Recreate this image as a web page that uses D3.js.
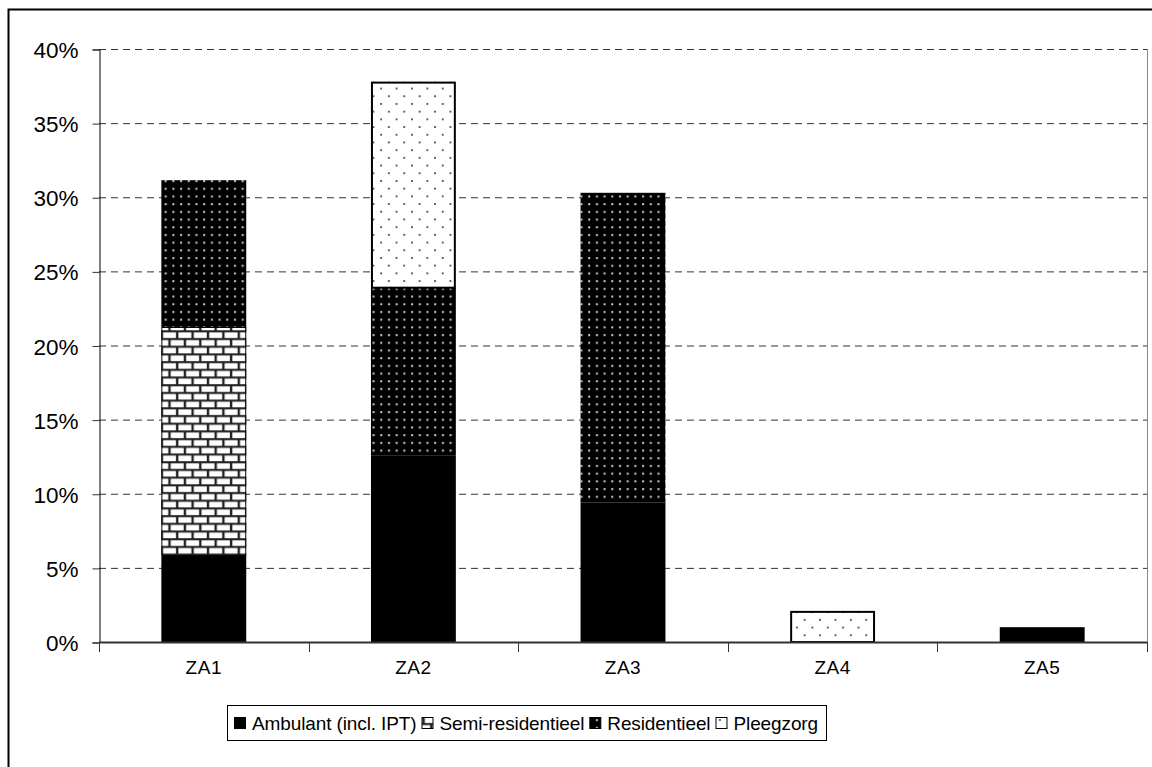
<!DOCTYPE html>
<html><head><meta charset="utf-8">
<script src="https://cdn.jsdelivr.net/npm/d3@7"></script>
<style>body{margin:0;background:#fff}svg{display:block;font-family:"Liberation Sans",Arial,sans-serif}</style>
</head><body><svg id="c" width="1152" height="767"></svg>
<script>
const categories = ["ZA1","ZA2","ZA3","ZA4","ZA5"];
const seriesNames = ["Ambulant (incl. IPT)","Semi-residentieel","Residentieel","Pleegzorg"];
const ambulant = [5.8, 12.6, 9.4, 0, 1.0];
const semiResidentieel = [15.45, 0, 0, 0, 0];
const residentieel = [9.9, 11.3, 20.9, 0, 0];
const pleegzorg = [0, 13.9, 0, 2.1, 0];
const yTicks = [0,5,10,15,20,25,30,35,40];

const svg = d3.select("#c");
const defs = svg.append("defs");
// patterns
const pSemi = defs.append("pattern").attr("id","semi").attr("patternUnits","userSpaceOnUse").attr("width",15.4).attr("height",15.4);
pSemi.append("rect").attr("width",15.4).attr("height",15.4).attr("fill","#222");
pSemi.append("rect").attr("x",1.3).attr("y",1.3).attr("width",13).attr("height",5.6).attr("fill","#fff");
pSemi.append("rect").attr("x",-6.4).attr("y",9).attr("width",13).attr("height",5.6).attr("fill","#fff");
pSemi.append("rect").attr("x",9).attr("y",9).attr("width",13).attr("height",5.6).attr("fill","#fff");
const pRes = defs.append("pattern").attr("id","res").attr("patternUnits","userSpaceOnUse").attr("width",7.7).attr("height",7.7);
pRes.append("rect").attr("width",7.7).attr("height",7.7).attr("fill","#000");
pRes.append("rect").attr("x",3).attr("y",3).attr("width",2).attr("height",2).attr("fill","#ccc");
const pPl = defs.append("pattern").attr("id","pl").attr("patternUnits","userSpaceOnUse").attr("width",15.4).attr("height",15.4);
pPl.append("rect").attr("width",15.4).attr("height",15.4).attr("fill","#fff");
pPl.append("rect").attr("x",3).attr("y",3).attr("width",1.7).attr("height",1.7).attr("fill","#333");
pPl.append("rect").attr("x",10.7).attr("y",10.7).attr("width",1.7).attr("height",1.7).attr("fill","#333");

const fills = ["#000","url(#semi)","url(#res)","url(#pl)"];

// outer frame
svg.append("rect").attr("x",8.5).attr("y",9.5).attr("width",1200).attr("height",800).attr("fill","none").attr("stroke","#000").attr("stroke-width",2);

const L=99, R=1147, T=49, B=642;
const x = d3.scaleBand().domain(categories).range([L,R]).paddingInner(0.595).paddingOuter(0.2975);
const y = d3.scaleLinear().domain([0,40]).range([B,T]);

// grid
svg.append("g").selectAll("line").data(yTicks.filter(d=>d>0)).join("line")
  .attr("x1",L).attr("x2",R).attr("y1",d=>y(d)+0.5).attr("y2",d=>y(d)+0.5)
  .attr("stroke","#333").attr("stroke-width",1).attr("stroke-dasharray","7,5");
svg.append("line").attr("x1",R+0.5).attr("x2",R+0.5).attr("y1",T).attr("y2",B).attr("stroke","#888").attr("stroke-width",1);

const data = categories.map((c,i)=>({cat:c, Ambulant:ambulant[i], Semi:semiResidentieel[i], Res:residentieel[i], Pl:pleegzorg[i]}));
const keys = ["Ambulant","Semi","Res","Pl"];
const stack = d3.stack().keys(keys)(data);
svg.append("g").selectAll("g").data(stack).join("g")
  .attr("fill",(d,i)=>fills[i])
  .selectAll("rect").data(d=>d.filter(s=>s[1]-s[0]>0)).join("rect")
  .attr("x",d=>x(d.data.cat)).attr("width",x.bandwidth())
  .attr("y",d=>y(d[1])).attr("height",d=>y(d[0])-y(d[1]));
svg.append("g").selectAll("rect").data(stack[3].filter(s=>s[1]-s[0]>0)).join("rect")
  .attr("x",d=>x(d.data.cat)+1).attr("width",x.bandwidth()-2)
  .attr("y",d=>y(d[1])+1).attr("height",d=>y(d[0])-y(d[1])-1)
  .attr("fill","none").attr("stroke","#000").attr("stroke-width",2);
svg.append("g").selectAll("rect").data(stack[1].filter(s=>s[1]-s[0]>0)).join("rect")
  .attr("x",d=>x(d.data.cat)+0.5).attr("width",x.bandwidth()-1)
  .attr("y",d=>y(d[1])+0.5).attr("height",d=>y(d[0])-y(d[1])-1)
  .attr("fill","none").attr("stroke","#000").attr("stroke-width",1);

// y axis
const ya = d3.axisLeft(y).tickValues(yTicks).tickFormat(d=>d+"%").tickSize(7).tickPadding(14);
const gy = svg.append("g").attr("transform",`translate(${L+0.5},0.5)`).call(ya);
gy.select(".domain").attr("stroke","#000");
gy.selectAll(".tick line").attr("stroke","#333");
gy.selectAll("text").style("font-size","22.5px").attr("fill","#000").style("font-family","Liberation Sans, Arial, sans-serif").attr("dy","0.36em");

// x axis
svg.append("line").attr("x1",L).attr("x2",R).attr("y1",B+0.5).attr("y2",B+0.5).attr("stroke","#333").attr("stroke-width",2);
const bounds = d3.range(categories.length+1).map(i=>L + i*x.step());
svg.append("g").selectAll("line").data(bounds).join("line")
  .attr("x1",d=>Math.round(d)+0.5).attr("x2",d=>Math.round(d)+0.5).attr("y1",B).attr("y2",B+10)
  .attr("stroke","#333").attr("stroke-width",1);
svg.append("g").selectAll("text").data(categories).join("text")
  .attr("x",d=>x(d)+x.bandwidth()/2).attr("y",674).attr("text-anchor","middle")
  .style("font-size","19px").style("letter-spacing","0.5px").text(d=>d);

// legend
const lg = svg.append("g");
lg.append("rect").attr("x",227.5).attr("y",705.5).attr("width",599).attr("height",35).attr("fill","#fff").attr("stroke","#000").attr("stroke-width",1);
let cx = 234;
const targetEnd = 818, iconW = 12, gapIn = 6, gapOut = 5;
const texts = seriesNames.map(n => lg.append("text").attr("y",730).style("font-size","19px").text(n));
const widths = texts.map(t=>t.node().getComputedTextLength());
const nChars = d3.sum(seriesNames, n=>n.length);
const natural = d3.sum(widths) + seriesNames.length*(iconW+gapIn) + (seriesNames.length-1)*gapOut;
const ls = (targetEnd-234-natural)/nChars;
seriesNames.forEach((n,i)=>{
  lg.append("rect").attr("x",cx+0.5).attr("y",717.5).attr("width",11).attr("height",11)
    .attr("fill",fills[i]).attr("stroke","#000").attr("stroke-width",1);
  texts[i].attr("x",cx+iconW+gapIn).style("letter-spacing",ls+"px");
  cx += iconW+gapIn+widths[i]+ls*n.length+gapOut;
});
</script></body></html>
